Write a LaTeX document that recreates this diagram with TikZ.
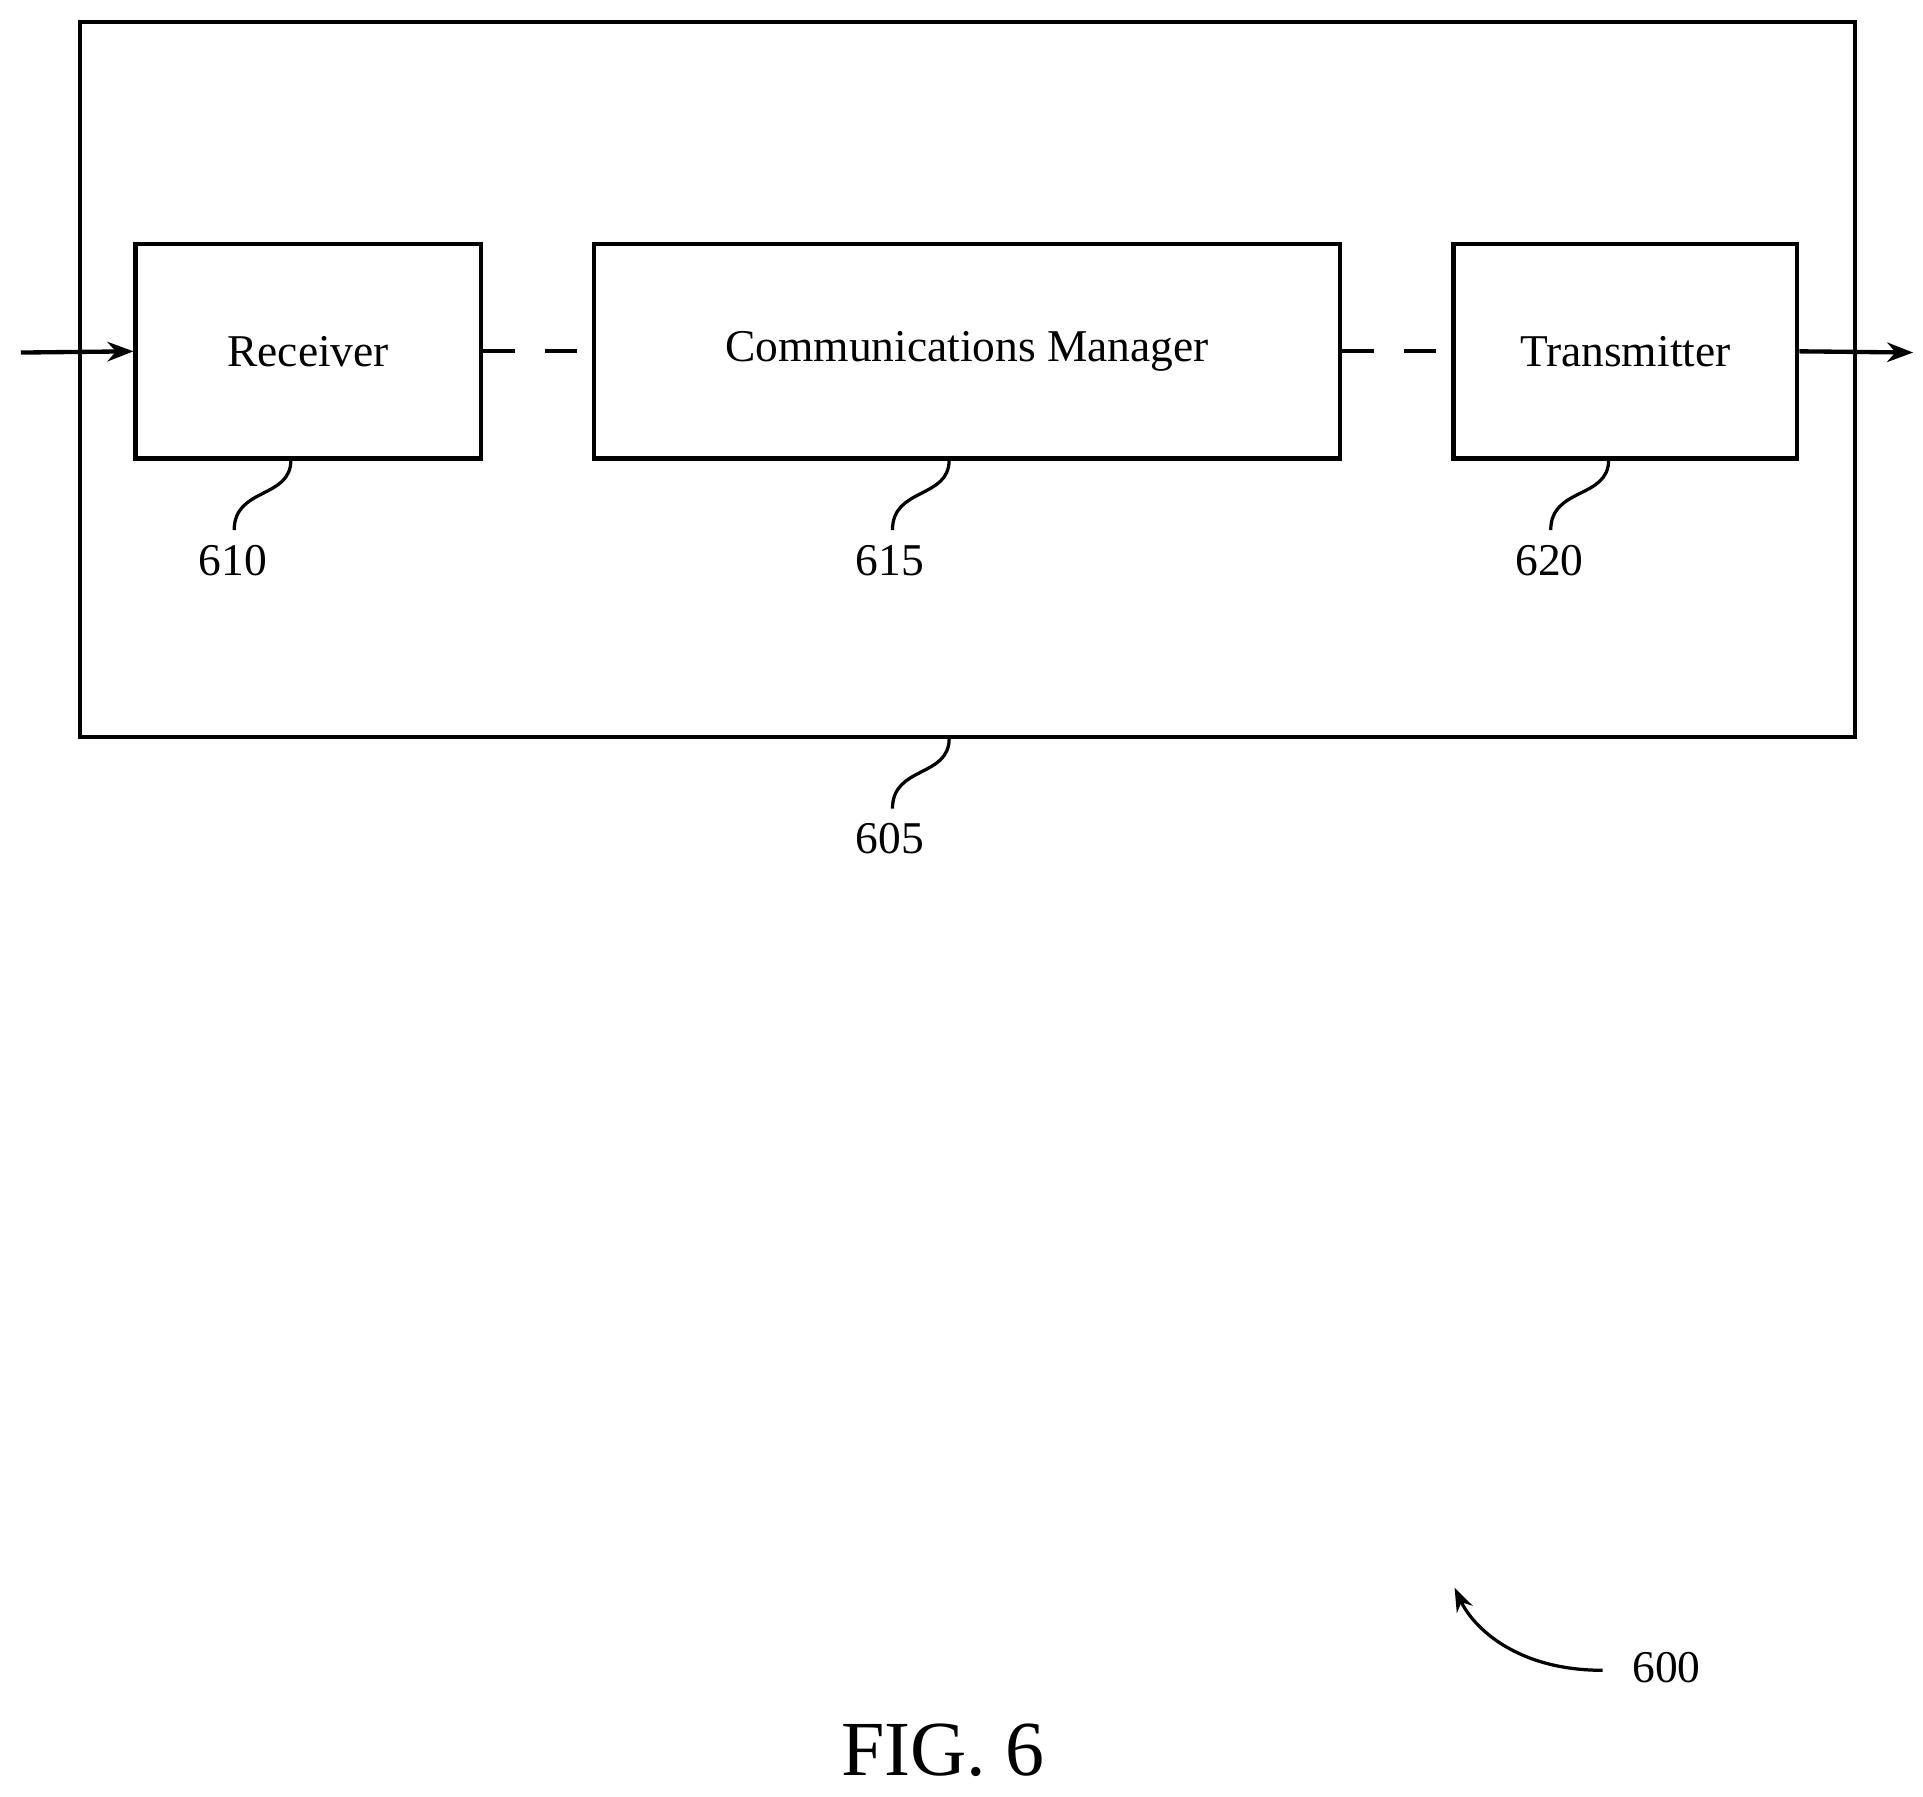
\documentclass[tikz,border=0pt]{standalone}
\usepackage{fontspec}
\setmainfont{Liberation Serif}
\usetikzlibrary{calc,arrows.meta}

\tikzset{
    blk/.style = {draw, line width=2pt, minimum height=3.48cm, inner sep=0pt, font=\fontsize{21}{24}\selectfont},
    lbl/.style = {font=\fontsize{21}{24}\selectfont, inner sep=0pt},
    lead/.style = {line width=1.5pt},
    arr/.style = {line width=2pt, -{Stealth[length=12pt,width=9pt]}}
}

\begin{document}
\begin{tikzpicture}[x=0.02cm, y=-0.02cm]
    \useasboundingbox (0,0) rectangle (1560,1457);

    \draw [line width=2pt] (65,18) rectangle (1505,598);

    \node [blk, minimum width=5.6cm] (rx) at (250,285) {Receiver};
    \node [blk, minimum width=12.1cm] (cm) at (784.5,285) {Communications Manager};
    \node [blk, minimum width=5.58cm] (tx) at (1318.5,285) {Transmitter};

    \coordinate (in) at (17,286);
    \coordinate (out) at (1552,286);
    \draw [arr] (in) -- (rx.west);
    \draw [arr] (tx.east) -- (out);
    \draw [line width=2pt, dash pattern=on 0.52cm off 0.48cm] (rx.east) -- ++(77,0);
    \draw [line width=2pt, dash pattern=on 0.52cm off 0.48cm] (cm.east) -- ++(77,0);

    % leaders
    \node [lbl] (n610) at (189,455) {610};
    \node [lbl] (n615) at (722,455) {615};
    \node [lbl] (n620) at (1257,455) {620};
    \node [lbl] (n605) at (722,680) {605};
    \draw [lead] (236,373) .. controls (236,405) and (190,395) .. (190,430);
    \draw [lead] (770,373) .. controls (770,405) and (724,395) .. (724,430);
    \draw [lead] (1305,373) .. controls (1305,405) and (1258,395) .. (1258,430);
    \draw [lead] (770,599) .. controls (770,631) and (724,621) .. (724,656);

    \node [lbl] (n600) at (1352,1353) {600};
    \draw [lead, -{Stealth[length=11pt,width=8pt]}] (1300,1355) .. controls (1230,1355) and (1195,1320) .. (1180,1288);

    \node [font=\fontsize{36}{40}\selectfont, inner sep=0pt] (fig) at (765,1420) {FIG. 6};
\end{tikzpicture}
\end{document}
